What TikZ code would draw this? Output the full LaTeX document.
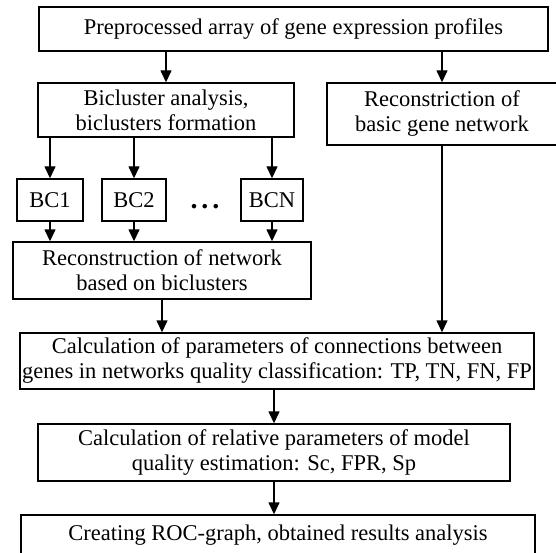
\documentclass[tikz,border=0pt]{standalone}
\usepackage{fontspec}
\setmainfont{Liberation Serif}
\usetikzlibrary{arrows.meta, positioning, calc}

\begin{document}
\begin{tikzpicture}[
        x=1pt, y=-1pt,
        every node/.style={font=\fontsize{22.5}{25}\selectfont},
        box/.style={rectangle, draw, line width=1.4pt, align=center, inner sep=0pt},
        bcbox/.style={box, minimum width=64pt, minimum height=42pt},
        arr/.style={-{Triangle[length=12pt, width=11pt]}, line width=1.4pt}
    ]
        \useasboundingbox (0,0) rectangle (556,553);
        \clip (0,0) rectangle (556,553);
        \node[box, minimum width=509pt, minimum height=44pt] (prep) at (293.5,29) {Preprocessed array of gene expression profiles};
        \node[box, minimum width=256pt, minimum height=54pt] (bicl) at (166,110) {Bicluster analysis,\\biclusters formation};
        \node[box, minimum width=230pt, minimum height=62pt] (basic) at (442,114) {Reconstriction of\\basic gene network};
        \node[bcbox, minimum width=66pt] (bc1) at (50,200) {BC1};
        \node[bcbox] (bc2) at (134,200) {BC2};
        \node (dots) at (205,207) {\fontsize{28}{28}\selectfont\textbf{.\hspace{4pt}.\hspace{4pt}.}};
        \node[bcbox, minimum width=62pt] (bcn) at (272,200) {BCN};
        \node[box, minimum width=298pt, minimum height=57pt] (recnet) at (162,270.5) {Reconstruction of network\\based on biclusters};
        \node[box, minimum width=514pt, minimum height=56pt] (conn) at (277,361) {Calculation of parameters of connections between\\genes in networks quality classification: TP, TN, FN, FP};
        \node[box, minimum width=472pt, minimum height=57pt] (rel) at (274,452.5) {Calculation of relative parameters of model\\quality estimation: Sc, FPR, Sp};
        \node[box, minimum width=514pt, minimum height=40pt] (roc) at (278,535) {Creating ROC-graph, obtained results analysis};

        \draw[arr] (prep.south -| bicl) -- (bicl);
        \draw[arr] (prep.south -| basic) -- (basic);
        \draw[arr] (bicl.south -| bc1) -- (bc1);
        \draw[arr] (bicl.south -| bc2) -- (bc2);
        \draw[arr] (bicl.south -| bcn) -- (bcn);
        \draw[arr] (bc1) -- (recnet.north -| bc1);
        \draw[arr] (bc2) -- (recnet.north -| bc2);
        \draw[arr] (bcn) -- (recnet.north -| bcn);
        \draw[arr] (recnet) -- (conn.north -| recnet);
        \draw[arr] (basic) -- (conn.north -| basic);
        \draw[arr] (conn.south -| rel) -- (rel);
        \draw[arr] (rel) -- (roc.north -| rel);
    \end{tikzpicture}
\end{document}
